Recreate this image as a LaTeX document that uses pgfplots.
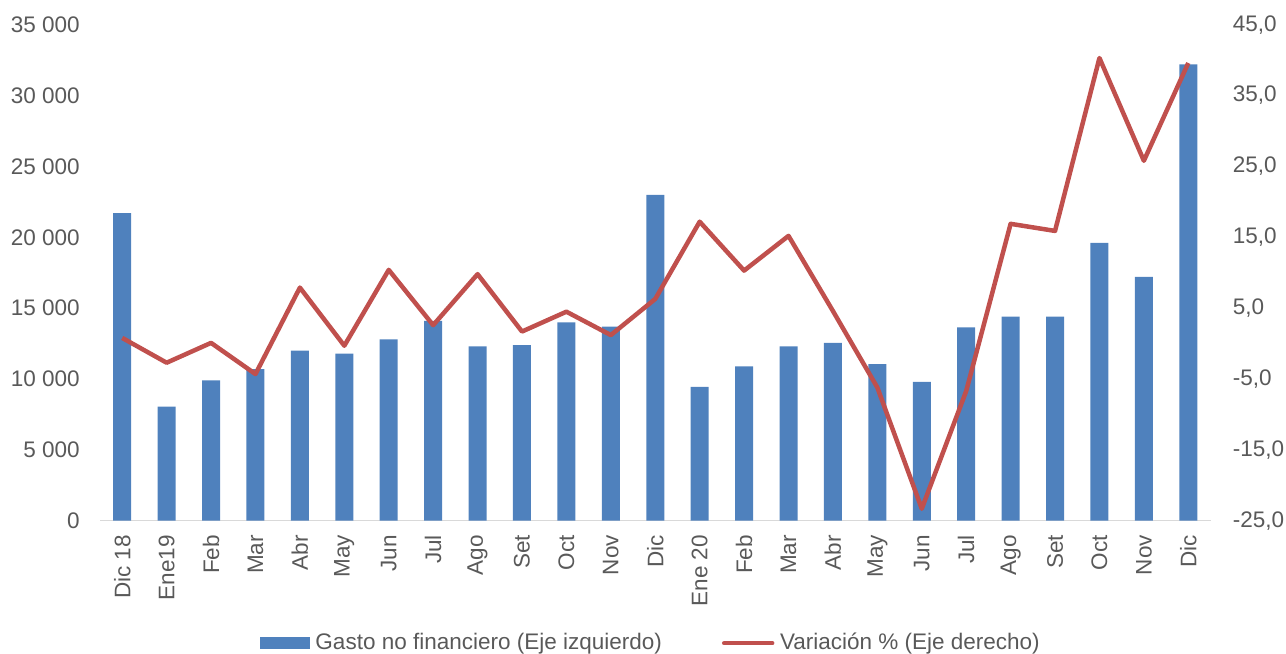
\documentclass[border=0pt]{standalone}
\usepackage{pgfplots}
\pgfplotsset{compat=1.18}
\usepackage{fontspec}
\setmainfont{Liberation Sans}
\definecolor{barblue}{HTML}{4F81BD}
\definecolor{linered}{HTML}{C0504D}
\definecolor{txtgray}{HTML}{595959}
\definecolor{axgray}{HTML}{D9D9D9}
\begin{document}
\fontsize{11.25pt}{13.5pt}\selectfont
\begin{tikzpicture}
\useasboundingbox (-50pt,-66.15pt) rectangle (592.95pt,260.35pt);
\pgfplotsset{
 common/.style={scale only axis, width=555.2pt, height=248pt,
   xmin=-0.5, xmax=24.5, at={(0,0)}, anchor=south west,
   tick style={draw=none},
   ticklabel style={font=\fontsize{11.25pt}{13.5pt}\selectfont, text=txtgray},
   /pgf/number format/assume math mode=true,
   scaled y ticks=false, clip=false},
}
\begin{axis}[common, ymin=0, ymax=35000, ytick={0,5000,...,35000},
  axis x line*=bottom, axis y line*=left,
  x axis line style={draw=axgray, line width=0.75pt},
  y axis line style={draw=none},
  /pgf/number format/1000 sep={\ },
  yticklabel style={inner sep=0pt, xshift=-10pt},
  xtick={0,...,24},
  xticklabels={Dic 18,Ene19,Feb,Mar,Abr,May,Jun,Jul,Ago,Set,Oct,Nov,Dic,Ene 20,Feb,Mar,Abr,May,Jun,Jul,Ago,Set,Oct,Nov,Dic},
  xticklabel style={rotate=90, anchor=east, inner xsep=0pt, inner ysep=0pt, xshift=-7pt},
]
\addplot[ybar, bar width=9pt, fill=barblue, draw=none] coordinates {
(0,21700) (1,8050) (2,9900) (3,10700) (4,12000) (5,11800) (6,12800) (7,14100) (8,12300) (9,12400) (10,14000) (11,13700) (12,23000)
(13,9450) (14,10900) (15,12300) (16,12550) (17,11050) (18,9800) (19,13650) (20,14400) (21,14400) (22,19600) (23,17200) (24,32200)};
\end{axis}
\begin{axis}[common, ymin=-25, ymax=45, ytick={-25,-15,...,45},
  axis y line*=right, axis x line=none, xtick=\empty,
  y axis line style={draw=none},
  /pgf/number format/.cd, fixed, fixed zerofill, precision=1, use comma, /pgfplots/.cd,
  yticklabel style={inner sep=0pt, xshift=11pt, anchor=west},
  legend columns=2,
  legend style={draw=none, fill=none, at={(0.4953,0)}, anchor=center, yshift=-61pt,
    font=\fontsize{11.25pt}{13.5pt}\selectfont, text=txtgray,
    nodes={inner xsep=0pt, inner ysep=1pt},
    /tikz/every odd column/.style={column sep=2.8pt},
    /tikz/every even column/.style={column sep=30pt}},
  legend cell align=left,
]
\addlegendimage{legend image code/.code={\fill[barblue] (0pt,-2.9pt) rectangle (24.4pt,2.6pt);}}
\addlegendentry{Gasto no financiero (Eje izquierdo)}
\addplot[linered, line width=2.25pt, line join=round, mark=none,
  legend image code/.code={\draw[linered, line width=2.25pt, line cap=round] (0pt,-0.2pt) -- (24pt,-0.2pt);}] coordinates {
(0,0.8) (1,-2.7) (2,0.1) (3,-4.3) (4,7.9) (5,-0.3) (6,10.4) (7,2.6) (8,9.8) (9,1.7) (10,4.5) (11,1.2) (12,6.3)
(13,17.2) (14,10.3) (15,15.2) (16,4.6) (17,-6.2) (18,-23.3) (19,-6.7) (20,16.9) (21,15.9) (22,40.3) (23,25.8) (24,39.6)};
\addlegendentry{Variación \% (Eje derecho)}
\end{axis}
\end{tikzpicture}
\end{document}
